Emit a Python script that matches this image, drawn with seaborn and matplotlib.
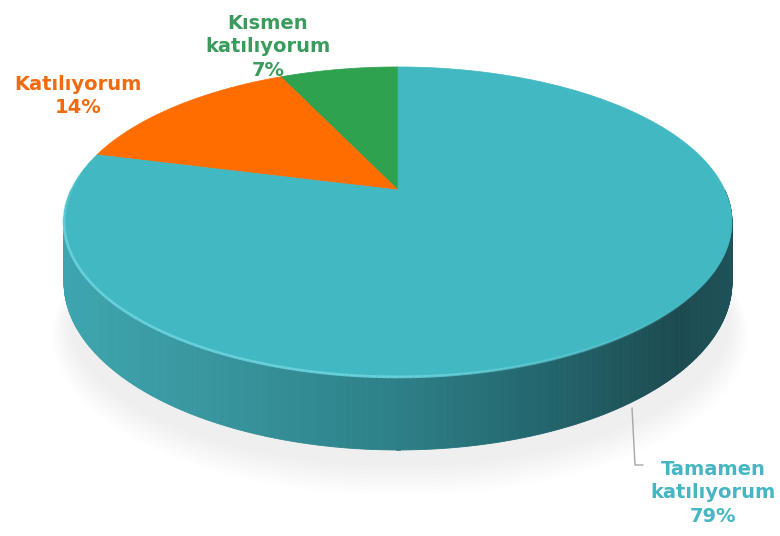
import numpy as np
import matplotlib
matplotlib.use("Agg")
import matplotlib.pyplot as plt
import seaborn as sns
from matplotlib.patches import Polygon, Ellipse
from matplotlib.collections import LineCollection
from matplotlib.colors import to_rgb

# ---- data ----
categories = ["Kısmen katılıyorum", "Katılıyorum", "Tamamen katılıyorum"]
values = [7, 14, 79]
labels = ["Kısmen\nkatılıyorum\n7%", "Katılıyorum\n14%", "Tamamen\nkatılıyorum\n79%"]
colors = ["#2ea24e", "#ff6c00", "#42b8c2"]
text_colors = ["#3a9c5c", "#f26a0e", "#45b6c2"]

sns.set_theme(style="white")
plt.rcParams['font.family'] = ['DejaVu Sans']

fig = plt.figure(figsize=(7.8, 5.36), dpi=100)
ax = fig.add_axes([0, 0, 1, 1])
ax.set_xlim(0, 780)
ax.set_ylim(536, 0)
ax.axis('off')

cx, cy, A, B, k, D = 398, 190, 326.8, 148.4, 0.206, 58


def proj(theta, drop=0.0):
    u, v = np.cos(theta), np.sin(theta)
    w = 1 + k * v
    return cx + A * u / w, cy - B * v / w + drop / w


# soft shadow
for i in range(8):
    ax.add_patch(Ellipse((400, 322 + 2 * i), 660 + 5 * i, 290 + 4 * i,
                         color="#000000", alpha=0.008, lw=0, zorder=0))

# side wall (front half)
stops_x = [60, 200, 400, 560, 680, 735]
stops_c = [to_rgb(c) for c in ["#3ea6b0", "#3897a0", "#2d7f87", "#22636a", "#1c4a50", "#1f5359"]]
th = np.linspace(np.pi, 2 * np.pi, 400)
for t0, t1 in zip(th[:-1], th[1:]):
    x0, y0 = proj(t0)
    x1, y1 = proj(t1)
    bx0, by0 = proj(t0, D)
    bx1, by1 = proj(t1, D)
    xm = (x0 + x1) / 2
    col = [np.interp(xm, stops_x, [c[j] for c in stops_c]) for j in range(3)]
    ax.add_patch(Polygon([(x0, y0), (x1, y1), (bx1, by1), (bx0, by0)],
                         closed=True, facecolor=col, edgecolor=col, lw=0.6, zorder=1))

# top face wedges
start = np.pi / 2
fracs = np.array(values, dtype=float) / np.sum(values)
for frac, col in zip(fracs, colors):
    end = start + frac * 2 * np.pi
    ts = np.linspace(start, end, 200)
    pts = [(cx, cy)] + [proj(t) for t in ts]
    ax.add_patch(Polygon(pts, closed=True, facecolor=col, edgecolor=col, lw=0.5, zorder=2))
    start = end

# rim highlight on the front edge, fading at both ends
ts = np.linspace(np.pi * 0.95, np.pi * 1.8, 240)
P = np.array([proj(t) for t in ts])
segs = np.stack([P[:-1], P[1:]], axis=1)
s = np.linspace(0, 1, len(segs))
alph = np.clip(np.minimum(s / 0.15, (1 - s) / 0.35), 0, 1) * 0.85
rgb = to_rgb("#6fd6e0")
lc = LineCollection(segs, colors=[(*rgb, a) for a in alph], linewidths=2.0, zorder=3)
ax.add_collection(lc)

# labels
fs = 14
ax.text(268, 47, labels[0], color=text_colors[0], fontsize=fs, fontweight='bold',
        ha='center', va='center', linespacing=1.3, zorder=4)
ax.text(78, 96, labels[1], color=text_colors[1], fontsize=fs, fontweight='bold',
        ha='center', va='center', linespacing=1.3, zorder=4)
ax.text(713, 493, labels[2], color=text_colors[2], fontsize=fs, fontweight='bold',
        ha='center', va='center', linespacing=1.3, zorder=4)
ax.plot([632, 635, 643], [408, 465, 465], color="#a6a6a6", lw=1, zorder=4)

fig.savefig("out.png", dpi=100)
